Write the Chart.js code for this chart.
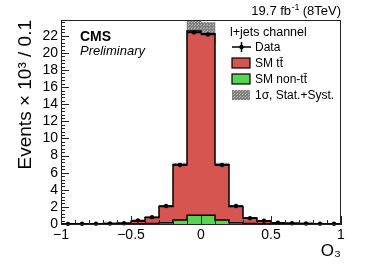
<!DOCTYPE html>
<html lang="en">
<head>
<meta charset="UTF-8">
<title>O3 distribution - l+jets channel</title>
<script src="https://cdn.jsdelivr.net/npm/chart.js"></script>
<style>
  body { margin: 0; background: #fff; }
</style>
</head>
<body>
<canvas id="chart" width="374" height="268"></canvas>
<script>
  // histogram binning (O3, width 0.1)
  const binEdges = [-1, -0.9, -0.8, -0.7, -0.6, -0.5, -0.4, -0.3, -0.2, -0.1, 0,
                    0.1, 0.2, 0.3, 0.4, 0.5, 0.6, 0.7, 0.8, 0.9, 1];
  // events x 10^3 per bin
  const dataVals = [0.02, 0.03, 0.04, 0.05, 0.08, 0.42, 0.80, 2.10, 6.90, 22.40,
                    22.15, 6.90, 2.10, 0.68, 0.38, 0.15, 0.08, 0.05, 0.04, 0.03];
  const dataErr  = [0.00, 0.01, 0.01, 0.01, 0.01, 0.02, 0.03, 0.05, 0.08, 0.15,
                    0.15, 0.08, 0.05, 0.03, 0.02, 0.01, 0.01, 0.01, 0.01, 0.01];
  const smTtbar  = [0.01, 0.02, 0.03, 0.04, 0.06, 0.29, 0.70, 1.90, 6.45, 21.53,
                    21.23, 6.45, 1.90, 0.65, 0.29, 0.11, 0.07, 0.04, 0.03, 0.02];
  const smNonTt  = [0.01, 0.01, 0.01, 0.01, 0.02, 0.03, 0.05, 0.15, 0.47, 1.02,
                    1.02, 0.47, 0.15, 0.05, 0.03, 0.02, 0.01, 0.01, 0.01, 0.01];
  const systUnc  = [0.00, 0.00, 0.00, 0.00, 0.01, 0.02, 0.03, 0.07, 0.20, 1.15,
                    1.30, 0.20, 0.07, 0.03, 0.02, 0.01, 0.00, 0.00, 0.00, 0.00];
  const xTicks = [-1, -0.5, 0, 0.5, 1];
  const yTicks = [0, 2, 4, 6, 8, 10, 12, 14, 16, 18, 20, 22];

  const FONT = "'Liberation Sans', Arial, Helvetica, sans-serif";
  const RED = '#d65550';
  const GREEN = '#58d352';

  const mcTotal = smTtbar.map((v, i) => v + smNonTt[i]);
  const centers = dataVals.map((v, i) => (binEdges[i] + binEdges[i + 1]) / 2);

  function stepPoints(vals) {
    const pts = vals.map((v, i) => ({ x: binEdges[i], y: v }));
    pts.push({ x: binEdges[binEdges.length - 1], y: vals[vals.length - 1] });
    return pts;
  }

  const ctx = document.getElementById('chart').getContext('2d');

  // grey dotted fill for the uncertainty band
  const tile = document.createElement('canvas');
  tile.width = 3; tile.height = 3;
  const tg = tile.getContext('2d');
  tg.fillStyle = '#808080'; tg.fillRect(0, 0, 3, 3);
  tg.fillStyle = '#b4b4b4'; tg.fillRect(0, 0, 1, 1); tg.fillRect(2, 1, 1, 1);
  const hatch = ctx.createPattern(tile, 'repeat');

  const fmt = v => {
    const s = String(Math.round(v * 10) / 10);
    return s.replace('-', '\u2212');
  };

  const decorations = {
    id: 'decorations',
    afterDatasetsDraw(chart) {
      const c = chart.ctx, xs = chart.scales.x, ys = chart.scales.y;
      const a = chart.chartArea;
      c.save();
      // data points with error bars
      c.strokeStyle = '#000'; c.fillStyle = '#000'; c.lineWidth = 1.5;
      dataVals.forEach((v, i) => {
        const x0 = xs.getPixelForValue(binEdges[i]);
        const x1 = xs.getPixelForValue(binEdges[i + 1]);
        const xc = xs.getPixelForValue(centers[i]);
        const y = ys.getPixelForValue(v);
        c.beginPath();
        c.moveTo(x0, y); c.lineTo(x1, y);
        c.moveTo(xc, ys.getPixelForValue(v - dataErr[i]));
        c.lineTo(xc, ys.getPixelForValue(v + dataErr[i]));
        c.stroke();
        c.beginPath(); c.arc(xc, y, 2.2, 0, Math.PI * 2); c.fill();
      });
      // frame
      c.lineWidth = 1; c.strokeStyle = '#222';
      c.strokeRect(a.left + 0.5, a.top + 0.5, a.right - a.left - 1, a.bottom - a.top);
      // inward ticks
      c.beginPath();
      for (let k = 0; k <= 59; k++) {
        const v = k * 0.4;
        if (v > ys.max) break;
        const y = Math.round(ys.getPixelForValue(v)) + 0.5;
        const len = (k % 5 === 0) ? 8 : 4;
        c.moveTo(a.left, y); c.lineTo(a.left + len, y);
      }
      for (let k = 0; k <= 20; k++) {
        const v = -1 + k * 0.1;
        const x = Math.round(xs.getPixelForValue(v)) + 0.5;
        const len = (k % 5 === 0) ? 8 : 4;
        c.moveTo(x, a.bottom); c.lineTo(x, a.bottom - len);
      }
      c.stroke();
      c.restore();
    },
    afterDraw(chart) {
      const c = chart.ctx, a = chart.chartArea;
      c.save();
      c.fillStyle = '#000';
      c.textBaseline = 'alphabetic';
      // luminosity label
      const t1 = '19.7 fb', t3 = ' (8TeV)';
      c.font = '9px ' + FONT;
      const wSup = c.measureText('-1').width;
      c.font = '13px ' + FONT;
      const w1 = c.measureText(t1).width, w3 = c.measureText(t3).width;
      const x = a.right - (w1 + wSup + w3);
      c.textAlign = 'left';
      c.fillText(t1, x, 15);
      c.font = '9px ' + FONT;
      c.fillText('-1', x + w1 + 0.5, 10);
      c.font = '13px ' + FONT;
      c.fillText(t3, x + w1 + wSup, 15);
      // CMS Preliminary
      c.font = 'bold 14px ' + FONT;
      c.fillText('CMS', 80, 41);
      c.font = 'italic 13px ' + FONT;
      c.fillText('Preliminary', 80, 55);
      // legend
      c.font = '12.5px ' + FONT;
      c.fillText('l+jets channel', 230, 36);
      c.font = '12px ' + FONT;
      const tx = 255;
      c.fillText('Data', tx, 51);
      c.fillText('SM t\u0074\u0304', tx, 67);
      c.fillText('SM non-t\u0074\u0304', tx, 83);
      c.fillText('1\u03c3, Stat.+Syst.', tx, 99);
      c.strokeStyle = '#000'; c.lineWidth = 1.5;
      c.beginPath();
      c.moveTo(232, 47); c.lineTo(251, 47);
      c.moveTo(241.5, 42); c.lineTo(241.5, 52);
      c.stroke();
      c.beginPath(); c.arc(241.5, 47, 2.2, 0, Math.PI * 2); c.fill();
      c.lineWidth = 1.2;
      c.fillStyle = RED; c.fillRect(232, 58, 18, 10); c.strokeRect(232, 58, 18, 10);
      c.fillStyle = GREEN; c.fillRect(232, 74, 18, 10); c.strokeRect(232, 74, 18, 10);
      c.fillStyle = hatch; c.fillRect(232, 90, 18, 10);
      c.restore();
    }
  };

  new Chart(ctx, {
    type: 'line',
    data: {
      datasets: [
        {
          label: 'SM non-tt',
          data: stepPoints(smNonTt),
          stepped: true,
          fill: 'origin',
          backgroundColor: GREEN,
          borderColor: '#000',
          borderWidth: 1.5,
          pointRadius: 0,
          order: 1
        },
        {
          label: 'SM tt',
          data: stepPoints(mcTotal),
          stepped: true,
          fill: 'origin',
          backgroundColor: RED,
          borderColor: '#000',
          borderWidth: 1.5,
          pointRadius: 0,
          order: 2
        },
        {
          type: 'bar',
          label: 'Stat.+Syst.',
          data: centers.map((x, i) => ({ x: x, y: [mcTotal[i] - systUnc[i], mcTotal[i] + systUnc[i]] })),
          backgroundColor: hatch,
          borderWidth: 0,
          barPercentage: 1,
          categoryPercentage: 1,
          order: 3
        }
      ]
    },
    options: {
      responsive: false,
      animation: false,
      layout: { padding: { top: 20, right: 33, left: 0, bottom: 0 } },
      plugins: { legend: { display: false }, tooltip: { enabled: false } },
      scales: {
        x: {
          type: 'linear',
          min: -1, max: 1,
          offset: false,
          afterBuildTicks: s => { s.ticks = xTicks.map(v => ({ value: v })); },
          afterFit: s => { s.height = 44; },
          grid: { display: false, drawTicks: false, offset: false },
          border: { display: true, color: '#222', width: 1 },
          ticks: {
            padding: 3, color: '#000', maxRotation: 0, autoSkip: false,
            font: { family: FONT, size: 14 },
            callback: v => fmt(v)
          },
          title: {
            display: true, text: 'O\u2083', align: 'end', color: '#000',
            font: { family: FONT, size: 17 },
            padding: { top: 0, bottom: 6 }
          }
        },
        y: {
          type: 'linear',
          min: 0, max: 23.85,
          afterBuildTicks: s => { s.ticks = yTicks.map(v => ({ value: v })); },
          afterFit: s => { s.width = 61; },
          grid: { display: false, drawTicks: false },
          border: { display: true, color: '#222', width: 1 },
          ticks: {
            padding: 3, color: '#000', autoSkip: false,
            font: { family: FONT, size: 14 },
            callback: v => fmt(v)
          },
          title: {
            display: true, text: 'Events \u00d7 10\u00b3 / 0.1', align: 'end', color: '#000',
            font: { family: FONT, size: 19 },
            padding: { top: 14, bottom: 0 }
          }
        }
      }
    },
    plugins: [decorations]
  });
</script>
</body>
</html>
